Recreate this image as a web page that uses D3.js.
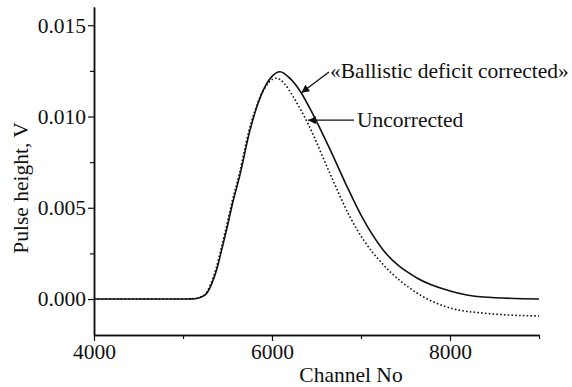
<!DOCTYPE html>
<html>
<head>
<meta charset="utf-8">
<script src="https://cdn.jsdelivr.net/npm/d3@7"></script>
<style>
  html, body { margin: 0; padding: 0; background: #fff; }
  svg { display: block; }
  text { font-family: "Liberation Serif", "Times New Roman", serif; fill: #111; }
</style>
</head>
<body>
<svg id="chart" width="572" height="387"></svg>
<script>
// Channel numbers and pulse heights (V) for the two pulse shapes
const channels = [4000, 5000, 5100, 5150, 5200, 5265, 5320, 5378, 5430, 5490, 5560, 5640, 5750, 5880, 6000, 6090, 6200, 6315, 6483, 6652, 6830, 7011, 7247, 7629, 8000, 8371, 9000];
const corrected = [0, 0, 0.00001, 0.00003, 0.0001, 0.0003, 0.0008, 0.0016, 0.0026, 0.0038, 0.0053, 0.0068, 0.0092, 0.0112, 0.0122, 0.01245, 0.0121, 0.0114, 0.0099, 0.0082, 0.0063, 0.0045, 0.0027, 0.00115, 0.00044, 0.00011, 0.0];

const channelsU = [4000, 5000, 5090, 5140, 5190, 5255, 5310, 5368, 5420, 5480, 5550, 5630, 5740, 5870, 5970, 6050, 6140, 6236, 6405, 6640, 6876, 7034, 7247, 7629, 8000, 8371, 9000];
const uncorrected = [0, 0, 0.00001, 0.00003, 0.0001, 0.0003, 0.0008, 0.0016, 0.0026, 0.0038, 0.0053, 0.0068, 0.0092, 0.0111, 0.0119, 0.0121, 0.0118, 0.0111, 0.0096, 0.0070, 0.0045, 0.0032, 0.0019, 0.00033, -0.00049, -0.00077, -0.00093];

const xTicks = [4000, 6000, 8000];
const xMinor = [5000, 7000, 9000];
const yTicks = [0.000, 0.005, 0.010, 0.015];
const yMinor = [0.0025, 0.0075, 0.0125];

const labelCorrected = "«Ballistic deficit corrected»";
const labelUncorrected = "Uncorrected";

const fontSize = 21.5;
const svg = d3.select("#chart");

const x = d3.scaleLinear().domain([4000, 9000]).range([94, 539]);
const y = d3.scaleLinear().domain([-0.00197, 0.016]).range([335, 7]);

// axes (left and bottom only)
const xAxis = d3.axisBottom(x).tickValues(xTicks).tickFormat(d3.format("d")).tickSize(6).tickSizeOuter(0).tickPadding(3);
const xAxisMinor = d3.axisBottom(x).tickValues(xMinor).tickFormat("").tickSize(4).tickSizeOuter(0);
const yAxis = d3.axisLeft(y).tickValues(yTicks).tickFormat(d3.format(".3f")).tickSize(6).tickSizeOuter(0).tickPadding(2);
const yAxisMinor = d3.axisLeft(y).tickValues(yMinor).tickFormat("").tickSize(4).tickSizeOuter(0);

function styleAxis(g) {
  g.select(".domain").attr("stroke", "#111").attr("stroke-width", 1.5);
  g.selectAll(".tick line").attr("stroke", "#111").attr("stroke-width", 1.2);
  g.selectAll(".tick text").attr("font-family", "Liberation Serif, serif").attr("font-size", fontSize).attr("fill", "#111");
}

svg.append("g").attr("transform", `translate(0,${y.range()[0]})`).call(xAxisMinor).call(styleAxis);
svg.append("g").attr("transform", `translate(0,${y.range()[0]})`).call(xAxis).call(styleAxis);
svg.append("g").attr("transform", `translate(${x.range()[0]},0)`).call(yAxisMinor).call(styleAxis);
svg.append("g").attr("transform", `translate(${x.range()[0]},0)`).call(yAxis).call(styleAxis);

// axis titles
svg.append("text")
  .attr("x", 351)
  .attr("y", 382)
  .attr("text-anchor", "middle")
  .attr("font-size", fontSize)
  .text("Channel No");

svg.append("text")
  .attr("transform", "translate(28,188) rotate(-90)")
  .attr("text-anchor", "middle")
  .attr("font-size", fontSize)
  .text("Pulse height, V");

// curves
const line = d3.line().curve(d3.curveMonotoneX);

svg.append("path")
  .attr("d", line(channelsU.map((c, i) => [x(c), y(uncorrected[i])])))
  .attr("fill", "none")
  .attr("stroke", "#111")
  .attr("stroke-width", 1.6)
  .attr("stroke-dasharray", "1.6,2.2");

svg.append("path")
  .attr("d", line(channels.map((c, i) => [x(c), y(corrected[i])])))
  .attr("fill", "none")
  .attr("stroke", "#111")
  .attr("stroke-width", 1.6);

// annotations with arrows
svg.append("defs").append("marker")
  .attr("id", "arrow")
  .attr("viewBox", "0 0 10 10")
  .attr("refX", 10).attr("refY", 5)
  .attr("markerWidth", 14).attr("markerHeight", 8)
  .attr("markerUnits", "userSpaceOnUse")
  .attr("orient", "auto")
  .append("path").attr("d", "M0,0 L10,5 L0,10 Z").attr("fill", "#111");

const tipC = [x(6330), y(0.0113)];
const tipU = [x(6405), y(0.0098)];

svg.append("line")
  .attr("x1", 329).attr("y1", 72)
  .attr("x2", tipC[0]).attr("y2", tipC[1])
  .attr("stroke", "#111").attr("stroke-width", 1.3)
  .attr("marker-end", "url(#arrow)");
svg.append("text").attr("x", 330).attr("y", 78).attr("font-size", fontSize).text(labelCorrected);

svg.append("line")
  .attr("x1", 354).attr("y1", tipU[1])
  .attr("x2", tipU[0]).attr("y2", tipU[1])
  .attr("stroke", "#111").attr("stroke-width", 1.3)
  .attr("marker-end", "url(#arrow)");
svg.append("text").attr("x", 357).attr("y", tipU[1] + 7).attr("font-size", fontSize).text(labelUncorrected);
</script>
</body>
</html>
